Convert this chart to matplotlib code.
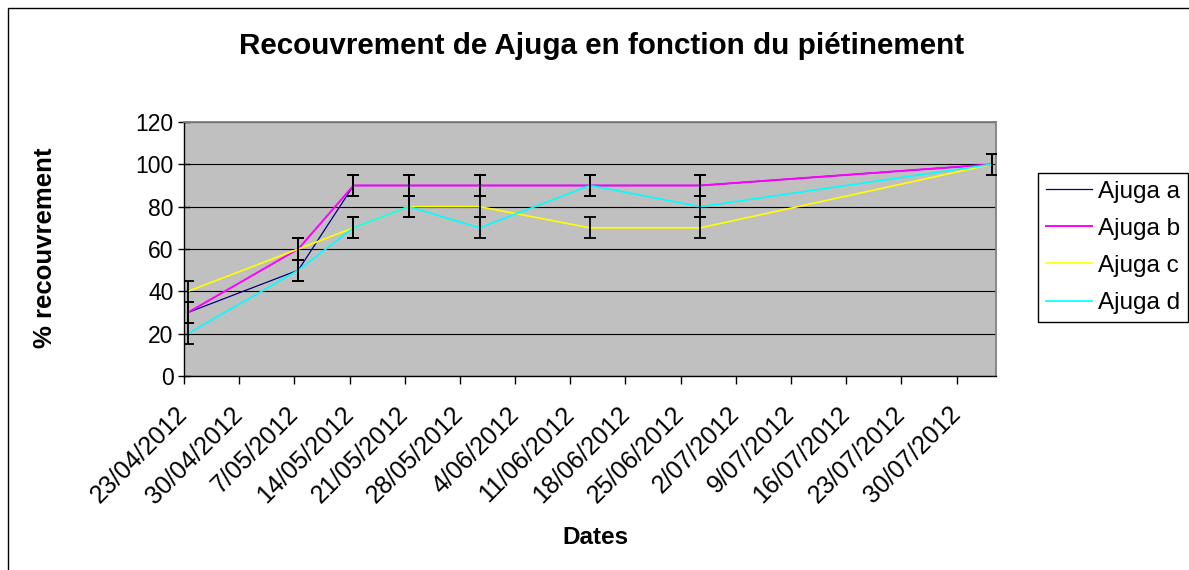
import matplotlib
matplotlib.use("Agg")
import matplotlib.pyplot as plt
import matplotlib.dates as mdates
from matplotlib.patches import Rectangle
from datetime import datetime

# dates des relevés et recouvrement (%) par placette
dates = ["23/04/2012", "07/05/2012", "14/05/2012", "21/05/2012",
         "30/05/2012", "13/06/2012", "27/06/2012", "03/08/2012"]
ajuga_a = [30, 50, 90, 90, 90, 90, 90, 100]
ajuga_b = [30, 60, 90, 90, 90, 90, 90, 100]
ajuga_c = [40, 60, 70, 80, 80, 70, 70, 100]
ajuga_d = [20, 50, 70, 80, 70, 90, 80, 100]
erreur = 5

series = ["Ajuga a", "Ajuga b", "Ajuga c", "Ajuga d"]
couleurs = ["#000080", "#FF00FF", "#FFFF00", "#00FFFF"]

tick_labels = ["23/04/2012", "30/04/2012", "7/05/2012", "14/05/2012", "21/05/2012",
               "28/05/2012", "4/06/2012", "11/06/2012", "18/06/2012", "25/06/2012",
               "2/07/2012", "9/07/2012", "16/07/2012", "23/07/2012", "30/07/2012"]
x_min, x_max = "23/04/2012", "04/08/2012"
y_ticks = [0, 20, 40, 60, 80, 100, 120]

plt.rcParams['font.family'] = ['Liberation Sans', 'DejaVu Sans']


def to_num(s):
    return mdates.date2num(datetime.strptime(s, "%d/%m/%Y"))


W, H = 1189, 570
fig = plt.figure(figsize=(W / 100, H / 100), dpi=100)
ax = fig.add_axes([184 / W, (H - 376) / H, 812 / W, 254 / H])
ax.set_facecolor("#C0C0C0")

# points placés au milieu du jour (axe de dates Excel)
x = [to_num(d) + 0.5 for d in dates]

largeurs = [0.9, 1.4, 1.2, 1.2]
handles = []
for vals, c, lw, nom in zip([ajuga_a, ajuga_b, ajuga_c, ajuga_d], couleurs, largeurs, series):
    h, = ax.plot(x, vals, color=c, lw=lw, label=nom, zorder=3)
    handles.append(h)

for vals in [ajuga_a, ajuga_b, ajuga_c, ajuga_d]:
    ax.errorbar(x, vals, yerr=erreur, fmt="none", ecolor="black",
                elinewidth=1.3, capsize=4.5, capthick=1.3, zorder=4)

ax.set_xlim(to_num(x_min), to_num(x_max))
ax.set_ylim(0, 120)
ax.set_yticks(y_ticks)
ax.set_xticks([to_num(t) for t in tick_labels], tick_labels,
              rotation=45, ha="right", va="center", rotation_mode="anchor")

ax.grid(axis="y", color="black", lw=0.8)
ax.set_axisbelow(True)

for s in ["top", "right"]:
    ax.spines[s].set_color("#808080")
    ax.spines[s].set_linewidth(1.3)
for s in ["left", "bottom"]:
    ax.spines[s].set_color("black")
    ax.spines[s].set_linewidth(1)

ax.tick_params(axis="y", direction="inout", length=9, width=1, labelsize=16.5, pad=3)
ax.tick_params(axis="x", direction="out", length=6, width=1, labelsize=18, pad=19)

# textes
fig.text(602 / W, 1 - 46 / H, "Recouvrement de Ajuga en fonction du piétinement",
         ha="center", va="center", fontsize=21.3, fontweight="bold")
fig.text(45 / W, 1 - 248 / H, "% recouvrement", rotation=90,
         ha="center", va="center", fontsize=18.5, fontweight="bold")
fig.text(595 / W, 1 - 537 / H, "Dates", ha="center", va="center",
         fontsize=17.5, fontweight="bold")

leg = fig.legend(handles, series, loc="upper left",
                 bbox_to_anchor=(1038 / W, 1 - 173 / H), frameon=True,
                 fancybox=False, edgecolor="black", framealpha=1, fontsize=17.5,
                 handlelength=1.9, handletextpad=0.25, labelspacing=0.62,
                 borderpad=0.32, borderaxespad=0)
leg.get_frame().set_linewidth(1)

# cadre du graphique
fig.add_artist(Rectangle((7.5 / W, -0.05), 1.1, (H - 7.5) / H + 0.05,
                         transform=fig.transFigure, fill=False,
                         edgecolor="black", linewidth=1))

fig.savefig("out.png", dpi=100)
